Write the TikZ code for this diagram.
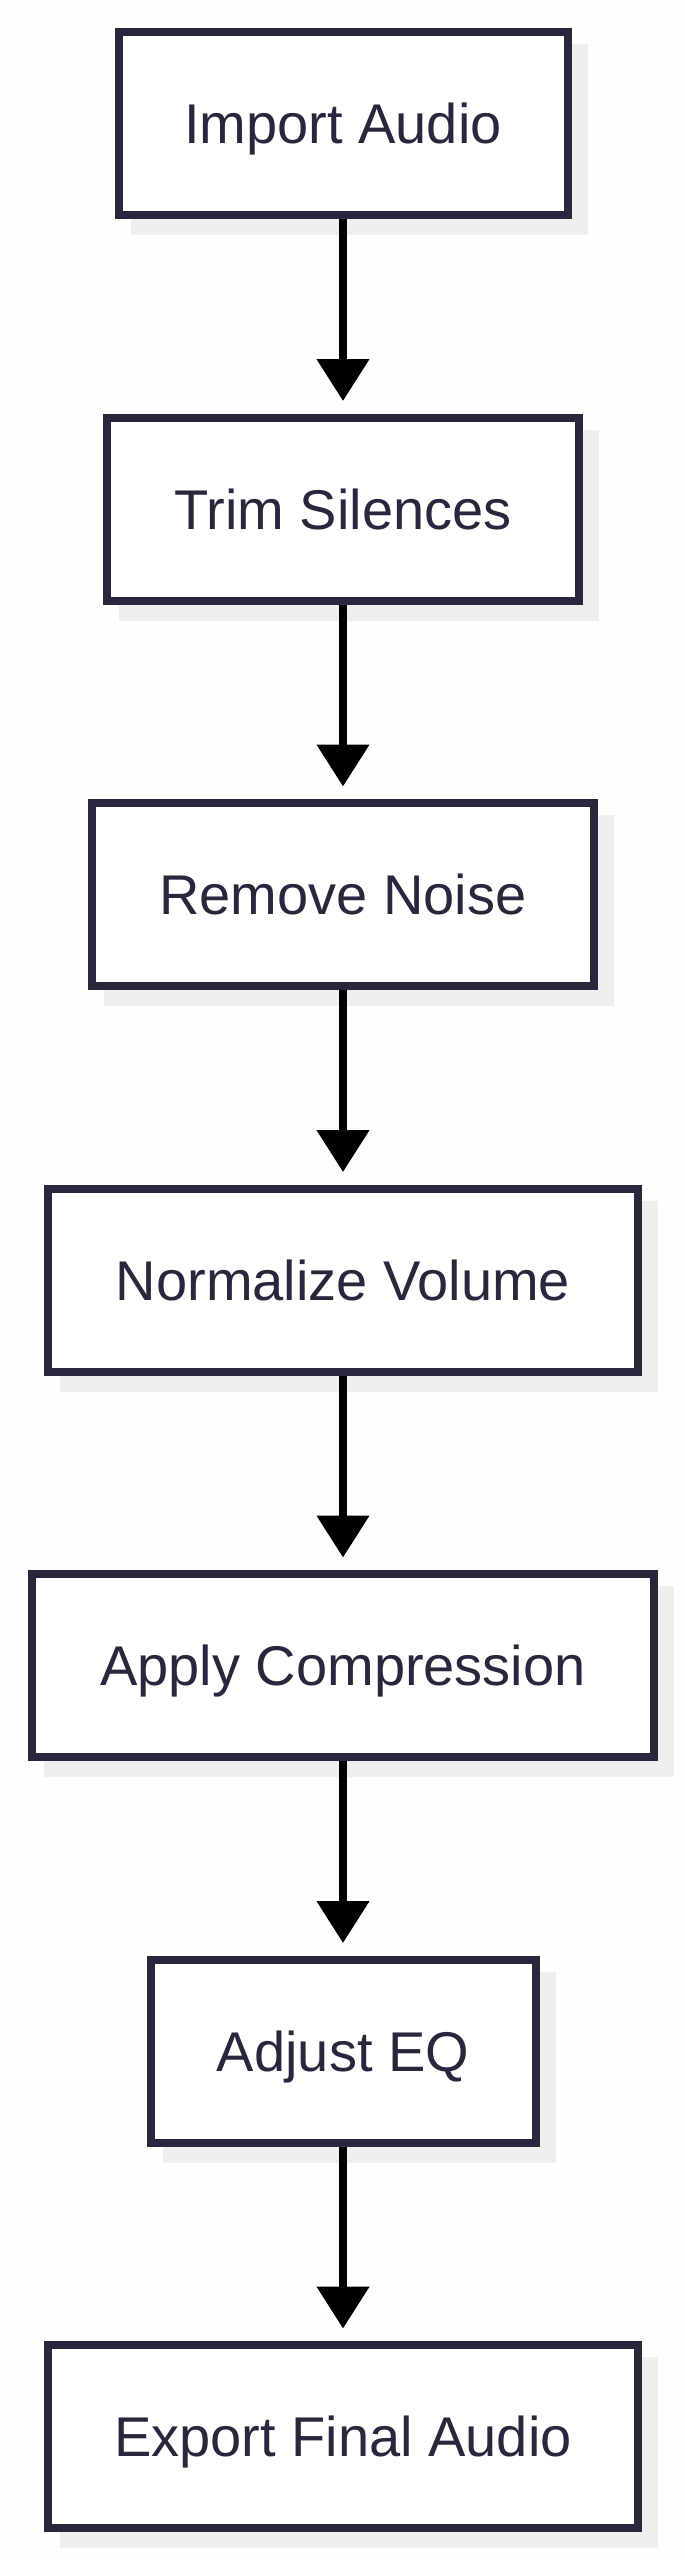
\documentclass[tikz,border=0pt]{standalone}
\usepackage{fontspec}
\setmainfont{Liberation Sans}
\usepackage{tikz}
\usetikzlibrary{arrows.meta,positioning,backgrounds}
\definecolor{stepnavy}{HTML}{28273D}
\definecolor{shadowgray}{HTML}{EFEFEF}
\definecolor{pagebg}{HTML}{FEFEFE}
\tikzset{
  stepbox/.style={draw=stepnavy,line width=4pt,fill=white,minimum height=91.5pt,text=stepnavy,
    font=\fontsize{28}{34}\selectfont,text height=20pt,text depth=0pt,inner sep=0pt},
  flow/.style={-{Triangle[length=21pt,width=25.5pt]},line width=4pt,black,shorten >=6.25pt},
}

\begin{document}
\begin{tikzpicture}[x=.5pt,y=-.5pt]
      \begin{scope}[on background layer]
        \fill[pagebg] (0,0) rectangle (685,2560);
      \end{scope}
      \useasboundingbox (0,0) rectangle (685,2560);
      \foreach \nm/\yy/\ww/\lab in {imp/123.5/224.5pt/{Import Audio},trim/509/236pt/{Trim Silences},
        noise/894.5/251pt/{Remove Noise},norm/1280/295pt/{Normalize Volume},
        comp/1665.5/311pt/{Apply Compression},eq/2051/192.5pt/{Adjust EQ},
        export/2436.5/295pt/{Export Final Audio}}{
        \node[stepbox,minimum width=\ww] (\nm) at (343,\yy) {\lab};
        \begin{scope}[on background layer]
          \fill[shadowgray] ([shift={(8pt,-8pt)}]\nm.north west) rectangle ([shift={(8pt,-8pt)}]\nm.south east);
        \end{scope}
      }
      \foreach \aa/\bb in {imp/trim,trim/noise,noise/norm,norm/comp,comp/eq,eq/export}{
        \draw[flow] (\aa.south) -- (\bb.north);
      }
    \end{tikzpicture}
\end{document}
